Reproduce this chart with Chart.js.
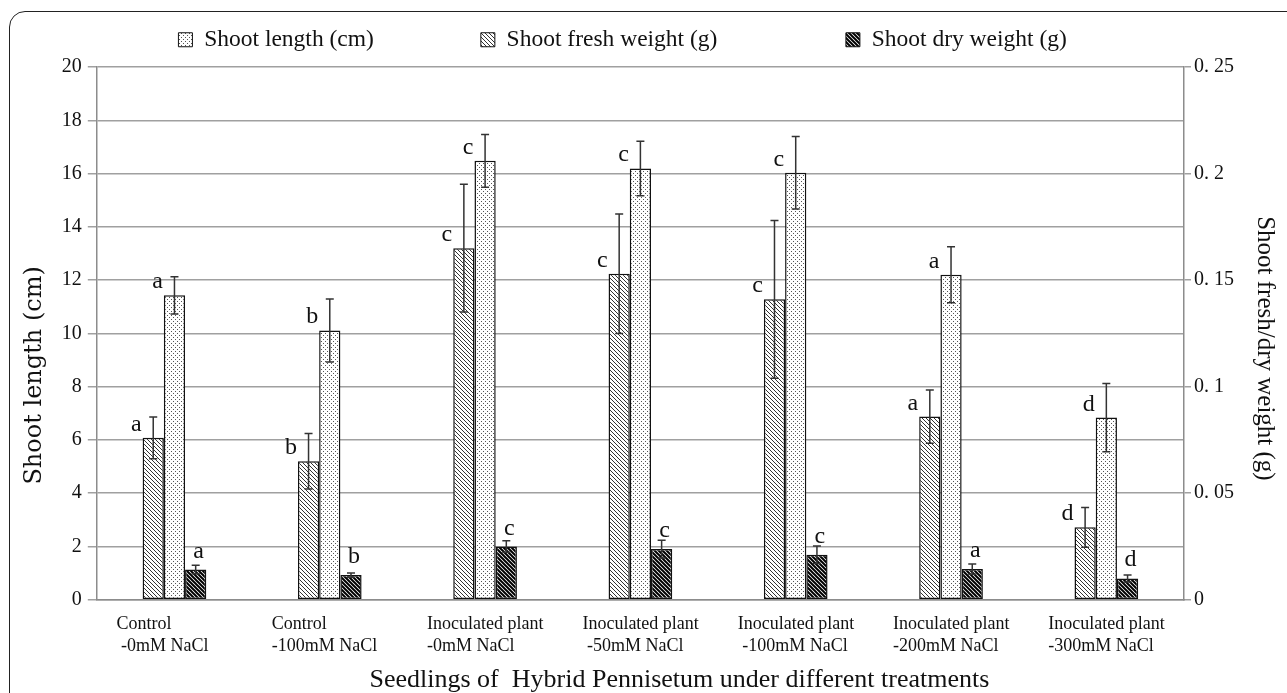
<!DOCTYPE html>
<html>
<head>
<meta charset="utf-8">
<script src="https://cdn.jsdelivr.net/npm/chart.js@4"></script>
<style>
  body { margin: 0; background: #fff; overflow: hidden; }
  #wrap { position: relative; width: 1287px; height: 693px; }
  #frame {
    position: absolute; left: 9px; top: 11px; width: 1300px; height: 720px;
    border: 1.5px solid #222; border-radius: 16px; pointer-events: none;
  }
</style>
</head>
<body>
<div id="wrap">
  <canvas id="shoot" width="1287" height="693"></canvas>
  <div id="frame"></div>
</div>
<script>
const treatments = [
  ['Control', ' -0mM NaCl'],
  ['Control', '-100mM NaCl'],
  ['Inoculated plant', '-0mM NaCl'],
  ['Inoculated plant', ' -50mM NaCl'],
  ['Inoculated plant', ' -100mM NaCl'],
  ['Inoculated plant', '-200mM NaCl'],
  ['Inoculated plant', '-300mM NaCl']
];

// shoot length, left axis (cm)
const shootLength    = [11.43, 10.11, 16.48, 16.19, 16.03, 12.2, 6.84];
const shootLengthErr = [0.70, 1.18, 0.99, 1.02, 1.36, 1.05, 1.28];
const lengthLetters  = ['a', 'b', 'c', 'c', 'c', 'a', 'd'];

// fresh / dry weight, right axis (g)
const freshWeight    = [0.076, 0.065, 0.165, 0.153, 0.141, 0.086, 0.034];
const freshWeightErr = [0.0098, 0.013, 0.030, 0.028, 0.037, 0.0125, 0.0093];
const freshLetters   = ['a', 'b', 'c', 'c', 'c', 'a', 'd'];

const dryWeight      = [0.0142, 0.0116, 0.025, 0.0238, 0.0211, 0.0144, 0.0100];
const dryWeightErr   = [0.0020, 0.0010, 0.0027, 0.0042, 0.0041, 0.0024, 0.0016];
const dryLetters     = ['a', 'b', 'c', 'c', 'c', 'a', 'd'];

const leftTicks  = { min: 0, max: 20, step: 2 };
const rightTicks = { min: 0, max: 0.25, step: 0.05 };

const SERIF = "'Liberation Serif', 'Times New Roman', serif";
Chart.defaults.font.family = SERIF;
Chart.defaults.color = '#111';

function makePattern(kind) {
  const c = document.createElement('canvas');
  c.width = 4; c.height = 4;
  const g = c.getContext('2d');
  g.fillStyle = '#fff';
  g.fillRect(0, 0, 4, 4);
  if (kind === 'dots') {
    g.fillStyle = '#555';
    g.fillRect(1, 1, 1, 1);
    g.fillRect(3, 3, 1, 1);
  } else {
    g.strokeStyle = kind === 'dense' ? '#000' : '#333';
    g.lineWidth = kind === 'dense' ? 2 : 1;
    g.beginPath();
    g.moveTo(-1, -1); g.lineTo(5, 5);
    g.moveTo(-1, 3);  g.lineTo(1, 5);
    g.moveTo(3, -1);  g.lineTo(5, 1);
    g.stroke();
  }
  return g.createPattern(c, 'repeat');
}

// error bars + significance letters
const errorBars = {
  id: 'errorBars',
  afterDatasetsDraw(chart) {
    const ctx = chart.ctx;
    ctx.save();
    chart.data.datasets.forEach((ds, di) => {
      const meta = chart.getDatasetMeta(di);
      const scale = chart.scales[meta.yAxisID];
      meta.data.forEach((bar, i) => {
        const v = ds.data[i], e = ds.errors[i];
        const yt = scale.getPixelForValue(v + e);
        const yb = scale.getPixelForValue(v - e);
        ctx.strokeStyle = '#333';
        ctx.lineWidth = 1.5;
        ctx.beginPath();
        ctx.moveTo(bar.x, yt); ctx.lineTo(bar.x, yb);
        ctx.moveTo(bar.x - 4, yt); ctx.lineTo(bar.x + 4, yt);
        ctx.moveTo(bar.x - 4, yb); ctx.lineTo(bar.x + 4, yb);
        ctx.stroke();

        ctx.fillStyle = '#111';
        ctx.font = '24px ' + SERIF;
        ctx.textBaseline = 'alphabetic';
        const left = bar.x - bar.width / 2;
        if (ds.letterPos === 'above') {
          ctx.textAlign = 'center';
          ctx.fillText(ds.letters[i], bar.x + 3, bar.y - 12);
        } else {
          ctx.textAlign = 'right';
          ctx.fillText(ds.letters[i], left - 1, bar.y - 7);
        }
      });
    });
    ctx.restore();
  }
};

// extra room under the legend
const legendGap = {
  id: 'legendGap',
  beforeLayout(chart) {
    const lg = chart.legend;
    if (lg && !lg._gapped) {
      const fit = lg.fit.bind(lg);
      lg.fit = function () { fit(); this.height += 5.5; };
      lg._gapped = true;
    }
  }
};

const EM = '\u2003';
const legendGaps = [EM.repeat(5), EM.repeat(4) + '\u200a', EM.repeat(2) + '\u2002'];
const legendOrder = [1, 0, 2];

new Chart(document.getElementById('shoot'), {
  type: 'bar',
  data: {
    labels: treatments,
    datasets: [
      {
        label: 'Shoot fresh weight (g)',
        data: freshWeight,
        errors: freshWeightErr,
        letters: freshLetters,
        letterPos: 'left',
        yAxisID: 'y2',
        backgroundColor: makePattern('hatch'),
        borderColor: '#111',
        borderWidth: 1.5,
        borderSkipped: false
      },
      {
        label: 'Shoot length (cm)',
        data: shootLength,
        errors: shootLengthErr,
        letters: lengthLetters,
        letterPos: 'left',
        yAxisID: 'y',
        backgroundColor: makePattern('dots'),
        borderColor: '#111',
        borderWidth: 1.5,
        borderSkipped: false
      },
      {
        label: 'Shoot dry weight (g)',
        data: dryWeight,
        errors: dryWeightErr,
        letters: dryLetters,
        letterPos: 'above',
        yAxisID: 'y2',
        backgroundColor: makePattern('dense'),
        borderColor: '#111',
        borderWidth: 1.5,
        borderSkipped: false
      }
    ]
  },
  options: {
    responsive: false,
    animation: false,
    categoryPercentage: 0.41,
    barPercentage: 1.0,
    layout: { padding: { top: 17, left: 20, right: 3, bottom: 0 } },
    plugins: {
      tooltip: { enabled: false },
      legend: {
        position: 'top',
        labels: {
          font: { size: 23.5 },
          color: '#111',
          boxWidth: 14,
          boxHeight: 14,
          padding: 11,
          generateLabels(chart) {
            const items = Chart.defaults.plugins.legend.labels.generateLabels(chart);
            items.forEach(it => {
              it.lineWidth = 1;
              it.text = it.text + legendGaps[it.datasetIndex];
            });
            return items;
          },
          sort: (a, b) => legendOrder.indexOf(a.datasetIndex) - legendOrder.indexOf(b.datasetIndex)
        }
      }
    },
    scales: {
      x: {
        grid: { display: false, drawTicks: false },
        border: { display: true, color: '#8c8c8c', width: 1.5 },
        ticks: {
          font: { size: 18, lineHeight: 1.2 },
          color: '#111',
          padding: 14,
          align: 'start',
          labelOffset: -58,
          autoSkip: false,
          maxRotation: 0
        },
        title: {
          display: true,
          text: EM.repeat(3) + 'Seedlings of  Hybrid Pennisetum under different treatments',
          font: { size: 26, lineHeight: 1.0 },
          color: '#111',
          padding: { top: -4, bottom: 0 }
        }
      },
      y: {
        position: 'left',
        min: leftTicks.min,
        max: leftTicks.max,
        ticks: { stepSize: leftTicks.step, font: { size: 20 }, color: '#111', padding: 6 },
        grid: { color: '#a0a0a0', lineWidth: 1.5, tickLength: 9 },
        border: { color: '#8c8c8c', width: 1.5 },
        title: {
          display: true,
          text: 'Shoot length (cm)' + EM.repeat(3) + '\u2002',
          font: { family: "'DejaVu Serif', serif", size: 24 },
          color: '#111',
          padding: { top: 0, bottom: 7 }
        }
      },
      y2: {
        position: 'right',
        min: rightTicks.min,
        max: rightTicks.max,
        ticks: {
          stepSize: rightTicks.step,
          font: { size: 20 },
          color: '#111',
          padding: 3,
          callback: v => v === 0 ? '0' : String(Number(v.toFixed(2))).replace('.', '. ')
        },
        grid: { drawOnChartArea: false, color: '#a0a0a0', lineWidth: 1.5, tickLength: 7 },
        border: { color: '#8c8c8c', width: 1.5 },
        title: {
          display: true,
          text: EM + '\u2009Shoot fresh/dry weight (g)',
          font: { size: 25 },
          color: '#111',
          padding: { top: 4, bottom: 13 }
        }
      }
    }
  },
  plugins: [errorBars, legendGap]
});
</script>
</body>
</html>
